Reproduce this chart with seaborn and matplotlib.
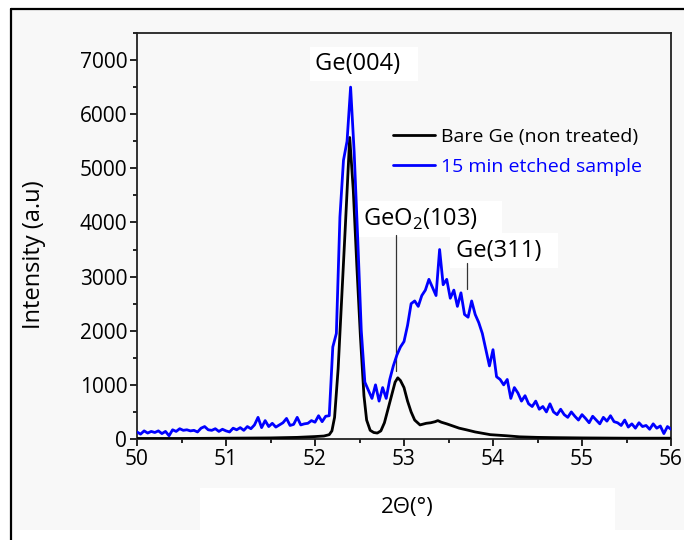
import numpy as np
import matplotlib
matplotlib.use("Agg")
import matplotlib.pyplot as plt
from matplotlib.patches import Rectangle
import seaborn as sns

# 15 min etched sample: intensity sampled every 0.04 deg from 50 to 56
etched = [
    130, 90, 150, 110, 140, 120, 150, 100, 140, 60,
    170, 140, 190, 160, 170, 150, 160, 130, 200, 230,
    170, 160, 190, 140, 180, 150, 130, 200, 170, 210,
    160, 230, 190, 260, 400, 210, 340, 230, 290, 220,
    260, 300, 380, 250, 270, 400, 260, 280, 290, 340,
    310, 430, 320, 420, 430, 1700, 1950, 4100, 5150, 5500,
    6500, 5300, 3700, 2000, 1050, 900, 750, 1000, 700, 950,
    750, 1100, 1350, 1550, 1700, 1800, 2100, 2500, 2550, 2450,
    2650, 2750, 2950, 2800, 2650, 3500, 2850, 2950, 2600, 2750,
    2450, 2700, 2300, 2250, 2550, 2300, 2150, 1950, 1650, 1350,
    1650, 1150, 1100, 1000, 1100, 750, 950, 850, 700, 800,
    650, 600, 700, 550, 600, 500, 650, 500, 450, 550,
    450, 400, 500, 420, 350, 450, 380, 300, 420, 350,
    280, 400, 330, 430, 320, 300, 250, 350, 220, 280,
    200, 300, 230, 250, 180, 280, 200, 240, 100, 230,
    180,
]
two_theta_etched = np.linspace(50.0, 56.0, len(etched))

# Bare Ge (non treated)
two_theta_bare = [
    50.0, 50.5, 51.0, 51.5, 51.8, 52.0, 52.1, 52.16, 52.19, 52.22,
    52.26, 52.30, 52.34, 52.39, 52.43, 52.47, 52.51, 52.55, 52.58, 52.62,
    52.66, 52.70, 52.74, 52.78, 52.82, 52.86, 52.90, 52.93, 52.96, 53.00,
    53.04, 53.08, 53.12, 53.18, 53.25, 53.30, 53.35, 53.38, 53.42, 53.48,
    53.55, 53.62, 53.70, 53.80, 53.97, 54.15, 54.30, 54.50, 54.70, 55.00,
    55.50, 56.0,
]
bare = [
    10, 10, 15, 20, 30, 45, 55, 80, 150, 400,
    1300, 2600, 3900, 5570, 4600, 3200, 1900, 800, 350, 160,
    120, 110, 150, 300, 550, 800, 1050, 1130, 1080, 950,
    700, 500, 350, 260, 290, 300, 320, 340, 310, 280,
    240, 200, 170, 130, 80, 60, 40, 30, 25, 20,
    15, 15,
]

labels = ["Bare Ge (non treated)", "15 min etched sample"]
colors = ["black", "#0000ff"]

# Peak labels: text, left edge / centre height, marker line x, marker line y-range
peaks = [
    ("Ge(004)  ", 52.00, 6930, None, None),
    ("GeO$_\\mathregular{2}$(103)    ", 52.54, 4060, 52.91, (1250, 3760)),
    ("Ge(311)  ", 53.58, 3480, 53.71, (2780, 3250)),
]

sns.set_theme(style="ticks")
plt.rcParams["font.family"] = ["Open Sans", "DejaVu Sans"]
plt.rcParams["mathtext.fontset"] = "custom"
plt.rcParams["mathtext.rm"] = "Open Sans"

bg = "#f8f8f8"
fig = plt.figure(figsize=(6.84, 5.4), dpi=100, facecolor="white")

# outer panel with a black frame
fig.patches.append(Rectangle((11 / 684, (540 - 530) / 540), 0.99, (530 - 9) / 540,
                             transform=fig.transFigure, facecolor=bg,
                             edgecolor="none", zorder=-3))
fig.patches.append(Rectangle((200 / 684, (540 - 530) / 540), 415 / 684, 42 / 540,
                             transform=fig.transFigure, facecolor="white",
                             edgecolor="none", zorder=-2))
fig.add_artist(plt.Line2D([11 / 684, 11 / 684], [0, 1 - 9 / 540],
                          transform=fig.transFigure, color="black", lw=1.6))
fig.add_artist(plt.Line2D([11 / 684, 1.0], [1 - 9 / 540, 1 - 9 / 540],
                          transform=fig.transFigure, color="black", lw=1.6))

ax = fig.add_axes([137 / 684, 101 / 540, (671 - 137) / 684, (439 - 33) / 540])
ax.set_facecolor(bg)

sns.lineplot(x=two_theta_bare, y=bare, ax=ax, color=colors[0], lw=2.0,
             label=labels[0], sort=False, zorder=3)
sns.lineplot(x=two_theta_etched, y=etched, ax=ax, color=colors[1], lw=2.0,
             label=labels[1], sort=False, zorder=3)

ax.set_xlim(50, 56)
ax.set_ylim(0, 7500)
ax.set_xticks(np.arange(50, 56.01, 1))
ax.set_xticks(np.arange(50.5, 56, 1), minor=True)
ax.set_yticks(np.arange(0, 7001, 1000))
ax.set_yticks(np.arange(500, 7501, 1000), minor=True)
ax.tick_params(axis="both", which="major", direction="out", length=5, width=1.2,
               labelsize=15, colors="black", pad=2)
ax.tick_params(axis="both", which="minor", direction="out", length=3, width=1.2,
               colors="black")
for s in ax.spines.values():
    s.set_visible(True)
    s.set_color("#222222")
    s.set_linewidth(1.3)

ax.set_xlabel("")
ax.set_ylabel("Intensity (a.u)", fontsize=17, color="black")
ax.yaxis.set_label_coords(46 / 684, 1 - 255 / 540, transform=fig.transFigure)

fig.text(407 / 684, 1 - 507 / 540, "2Θ(°)", ha="center", va="center", fontsize=16,
         color="black")

for text, tx, ty, lx, ly in peaks:
    ax.text(tx, ty, text, ha="left", va="center", fontsize=17, zorder=1.5,
            color="black",
            bbox=dict(facecolor="white", edgecolor="none",
                      boxstyle="square,pad=0.22"))
    if lx is not None:
        ax.plot([lx, lx], list(ly), color="#333333", lw=0.9, zorder=1.6)

leg = ax.legend(loc="upper left", bbox_to_anchor=(393 / 684, 1 - 128 / 540),
                bbox_transform=fig.transFigure, frameon=False, fontsize=14,
                handlelength=2.15, handletextpad=0.3, labelspacing=0.62,
                borderaxespad=0, borderpad=0)
for t, c in zip(leg.get_texts(), colors):
    t.set_color(c)

fig.savefig("out.png", dpi=100, facecolor=fig.get_facecolor())
